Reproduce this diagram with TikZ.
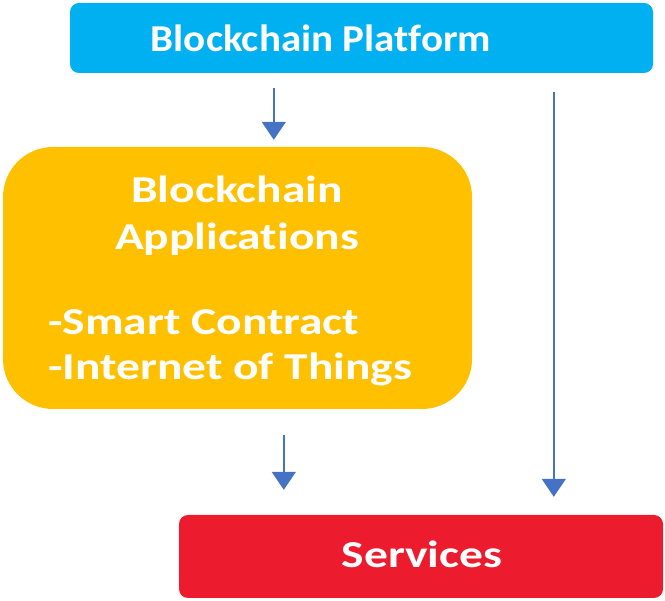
\documentclass[tikz,border=0pt]{standalone}
\usepackage{fontspec}
\setmainfont{Carlito}
\newfontfamily\platfont{Carlito}[FakeStretch=1.08, Ligatures=NoCommon]
\newfontfamily\widefont{Carlito}[FakeStretch=1.25, Ligatures=NoCommon]
\usetikzlibrary{arrows.meta,calc}
\definecolor{platblue}{HTML}{00B0F0}
\definecolor{appgold}{HTML}{FFC000}
\definecolor{servred}{HTML}{EC1C2E}
\definecolor{flowblue}{HTML}{4472C4}

\begin{document}
\begin{tikzpicture}[x=1pt, y=-1pt,
    box/.style={rectangle, rounded corners=9pt, inner sep=0pt},
    boxtext/.style={text=white, inner sep=0pt, font=\fontsize{38}{46}\selectfont\widefont\bfseries},
    flow/.style={draw=flowblue, line width=1.6pt, -{Triangle[width=24pt,length=18pt]}}]
    \useasboundingbox (0,0) rectangle (665,601);

    % boxes
    \node[box, fill=platblue, minimum width=583pt, minimum height=70pt] (plat) at (361.5,38) {};
    \node[box, fill=appgold, rounded corners=50pt, minimum width=469pt, minimum height=262pt] (app) at (237.5,278) {};
    \node[box, fill=servred, minimum width=484pt, minimum height=83pt] (serv) at (421,556.5) {};

    % texts
    \node[boxtext, anchor=base, font=\fontsize{38}{46}\selectfont\platfont\bfseries] (platlbl) at (321,52) {Blockchain Platform};
    \node[boxtext, anchor=base] (apphead) at (237,203) {Blockchain};
    \node[boxtext, anchor=base] (appsub) at (237,250) {Applications};
    \node[boxtext, anchor=base west] (smart) at (48,335) {-Smart Contract};
    \node[boxtext, anchor=base west] (iot) at (48,380) {-Internet of Things};
    \node[boxtext, anchor=base] (servlbl) at (422,568) {Services};

    % arrows
    \draw[flow] ($(plat.south west)+(204,15)$) -- ($(app.north west)+(271,-7)$);
    \draw[flow] ($(plat.south west)+(484,19)$) -- ($(serv.north west)+(375,-18)$);
    \draw[flow] ($(app.south west)+(281,26)$) -- ($(serv.north west)+(105,-25)$);
\end{tikzpicture}
\end{document}
